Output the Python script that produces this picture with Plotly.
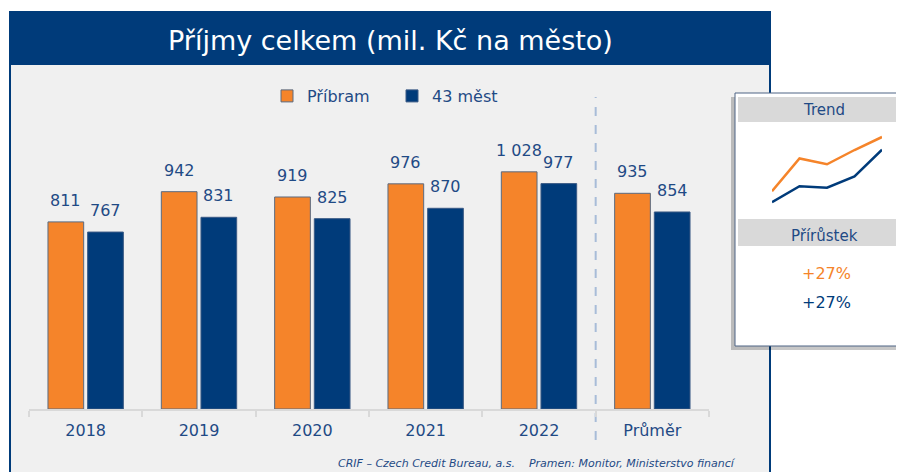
import plotly.graph_objects as go

categories = ["2018", "2019", "2020", "2021", "2022", "Průměr"]
pribram = [811, 942, 919, 976, 1028, 935]
mest43 = [767, 831, 825, 870, 977, 854]
series_names = ["Příbram", "43 měst"]
trend_years = ["2018", "2019", "2020", "2021", "2022"]
growth_labels = ["+27%", "+27%"]

OFF = 8  # default body margin of the html page
W, H = 904 - OFF, 472 - OFF
ORANGE = "#F5842A"
BLUE = "#003B7A"
TEXT = "#1F4A85"
FONT = "DejaVu Sans"


def px(x):
    return (x - OFF) / W


def py(y):
    return 1 - (y - OFF) / H


def fmt(v):
    return f"{v:,}".replace(",", " ")


fig = go.Figure()
fig.add_trace(go.Bar(x=categories, y=pribram, name=series_names[0],
                     marker=dict(color=ORANGE, line=dict(color="#5a6a80", width=1)),
                     xaxis="x", yaxis="y"))
fig.add_trace(go.Bar(x=categories, y=mest43, name=series_names[1],
                     marker=dict(color=BLUE, line=dict(color="#3a5a85", width=1)),
                     xaxis="x", yaxis="y"))

# mini trend chart
fig.add_trace(go.Scatter(x=trend_years, y=pribram[:5], mode="lines",
                         line=dict(color=ORANGE, width=2.5), showlegend=False,
                         xaxis="x2", yaxis="y2", hoverinfo="skip"))
fig.add_trace(go.Scatter(x=trend_years, y=mest43[:5], mode="lines",
                         line=dict(color=BLUE, width=2.5), showlegend=False,
                         xaxis="x2", yaxis="y2", hoverinfo="skip"))

annotations = []
for i, (a, b) in enumerate(zip(pribram, mest43)):
    for val, sh in ((a, -19.8), (b, 19.8)):
        annotations.append(dict(x=i, y=val, xref="x", yref="y", text=fmt(val),
                                showarrow=False, xshift=sh, yshift=10, yanchor="bottom",
                                xanchor="center",
                                font=dict(size=16, color=TEXT, family=FONT)))


def label(x, y, text, size, color, xanchor="center"):
    return dict(x=px(x), y=py(y), xref="paper", yref="paper", text=text, showarrow=False,
                xanchor=xanchor, yanchor="middle",
                font=dict(size=size, color=color, family=FONT))


annotations += [
    label(390, 40, "Příjmy celkem (mil. Kč na město)", 27, "white"),
    label(824, 110, "Trend", 15, TEXT),
    label(824, 236, "Přírůstek", 15, TEXT),
    label(826, 273, growth_labels[0], 16, ORANGE),
    label(826, 302, growth_labels[1], 16, BLUE),
    label(738, 463, "<i>CRIF – Czech Credit Bureau, a.s.\u00a0\u00a0\u00a0\u00a0Pramen: Monitor, Ministerstvo financí</i>",
          11, TEXT, xanchor="right"),
]

shapes = [
    # outer frame with grey background
    dict(type="rect", xref="paper", yref="paper", x0=px(10), x1=px(770), y0=py(490), y1=py(12),
         fillcolor="#F0F0F0", line=dict(color=BLUE, width=2), layer="below"),
    # title bar
    dict(type="rect", xref="paper", yref="paper", x0=px(10), x1=px(770), y0=py(65), y1=py(12),
         fillcolor=BLUE, line=dict(width=0), layer="below"),
    # dashed separator between the years and the average
    dict(type="line", xref="x", yref="paper", x0=4.5, x1=4.5, y0=py(440), y1=py(97),
         line=dict(color="#A8BCD8", width=2, dash="dash"), layer="below"),
    # panel shadow
    dict(type="rect", xref="paper", yref="paper", x0=px(731), x1=px(910), y0=py(350), y1=py(97),
         fillcolor="rgba(0,0,0,0.22)", line=dict(width=0), layer="below"),
    # panel
    dict(type="rect", xref="paper", yref="paper", x0=px(735), x1=px(910), y0=py(346), y1=py(93),
         fillcolor="white", line=dict(color="#4F6585", width=1), layer="below"),
    dict(type="rect", xref="paper", yref="paper", x0=px(738), x1=px(910), y0=py(122), y1=py(97),
         fillcolor="#D9D9D9", line=dict(width=0), layer="below"),
    dict(type="rect", xref="paper", yref="paper", x0=px(738), x1=px(910), y0=py(246), y1=py(219),
         fillcolor="#D9D9D9", line=dict(width=0), layer="below"),
]

TOP = 80
BASE = 409
SCALE = 0.2307

fig.update_layout(
    width=W, height=H,
    margin=dict(l=0, r=0, t=0, b=0),
    paper_bgcolor="white",
    plot_bgcolor="rgba(0,0,0,0)",
    barmode="group", bargap=0.30, bargroupgap=0.10,
    font=dict(family=FONT, color=TEXT),
    xaxis=dict(type="category", domain=[px(29), px(709)], range=[-0.5, len(categories) - 0.5],
               showline=True, linecolor="#D9D9D9",
               linewidth=2, ticks="outside", tickson="boundaries", ticklen=6, tickwidth=2,
               tickcolor="#D9D9D9", tickfont=dict(size=16, color=TEXT, family=FONT),
               ticklabelstandoff=6,
               showgrid=False, zeroline=False, fixedrange=True),
    yaxis=dict(domain=[py(BASE), py(TOP)], range=[0, (BASE - TOP) / SCALE], visible=False,
               showgrid=False, zeroline=False),
    xaxis2=dict(type="category", domain=[px(772), px(882)], range=[0, 4], visible=False,
                anchor="y2"),
    yaxis2=dict(domain=[py(215), py(125)], range=[716, 1076], visible=False, anchor="x2"),
    legend=dict(orientation="h", x=px(267), y=py(96), xanchor="left", yanchor="middle",
                entrywidth=80, bgcolor="rgba(0,0,0,0)",
                font=dict(size=16, color=TEXT, family=FONT)),
    annotations=annotations,
    shapes=shapes,
    showlegend=True,
)

fig.write_html("out.html")
